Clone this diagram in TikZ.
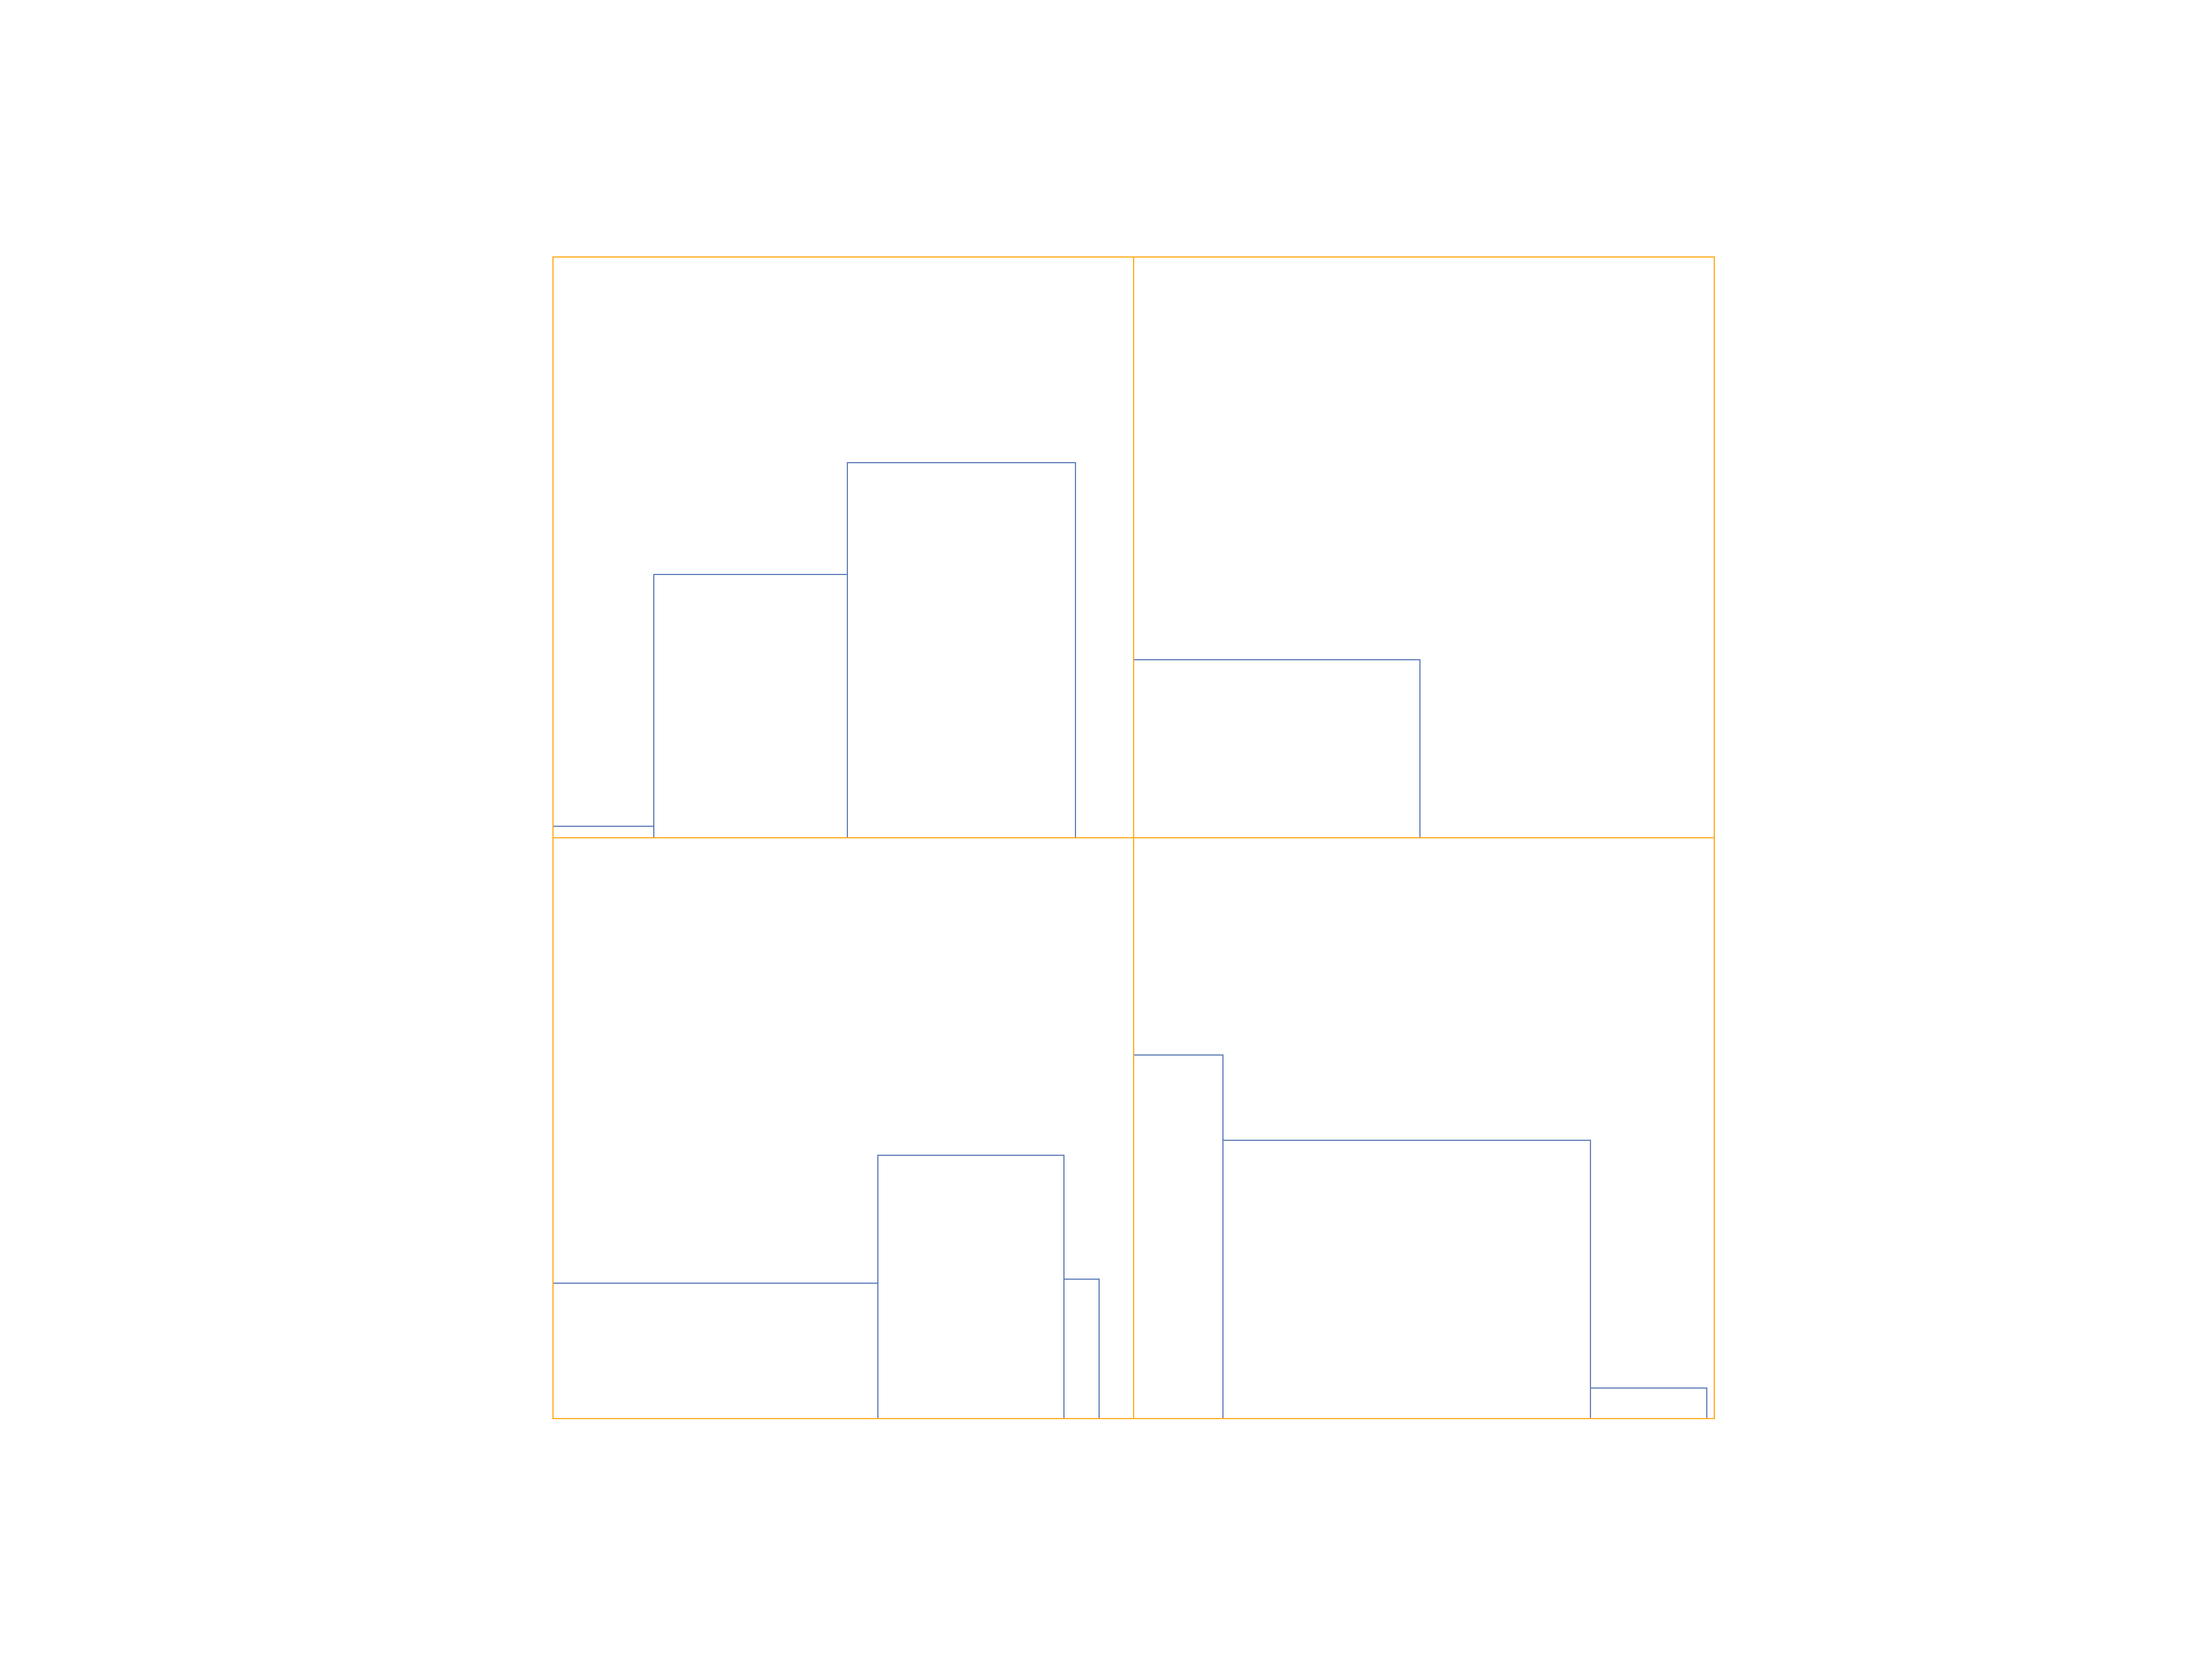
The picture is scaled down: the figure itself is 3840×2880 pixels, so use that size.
\documentclass[tikz,border=0pt]{standalone}
\definecolor{gridorange}{RGB}{255,170,25}
\definecolor{barblue}{RGB}{96,126,184}
\begin{document}
\begin{tikzpicture}[x=0.01cm,y=-0.01cm,
  bar/.style={draw=barblue,line width=0.35pt},
  frame/.style={draw=gridorange,line width=0.6pt}]
\useasboundingbox (0,0) rectangle (3840,2880);
% top-left quadrant
\draw[bar] (960,1454) rectangle (1135,1434);
\draw[bar] (1135,1454) rectangle (1471,997);
\draw[bar] (1471,1454) rectangle (1867,803);
% top-right quadrant
\draw[bar] (1968,1454) rectangle (2465,1145);
% bottom-left quadrant
\draw[bar] (960,2462) rectangle (1524,2227);
\draw[bar] (1524,2462) rectangle (1847,2005);
\draw[bar] (1847,2462) rectangle (1908,2220);
% bottom-right quadrant
\draw[bar] (1968,2462) rectangle (2123,1831);
\draw[bar] (2123,2462) rectangle (2761,1979);
\draw[bar] (2761,2462) rectangle (2963,2409);
% frames
\draw[frame] (960,446) rectangle (1968,1454);
\draw[frame] (1968,446) rectangle (2976,1454);
\draw[frame] (960,1454) rectangle (1968,2462);
\draw[frame] (1968,1454) rectangle (2976,2462);
\end{tikzpicture}
\end{document}
